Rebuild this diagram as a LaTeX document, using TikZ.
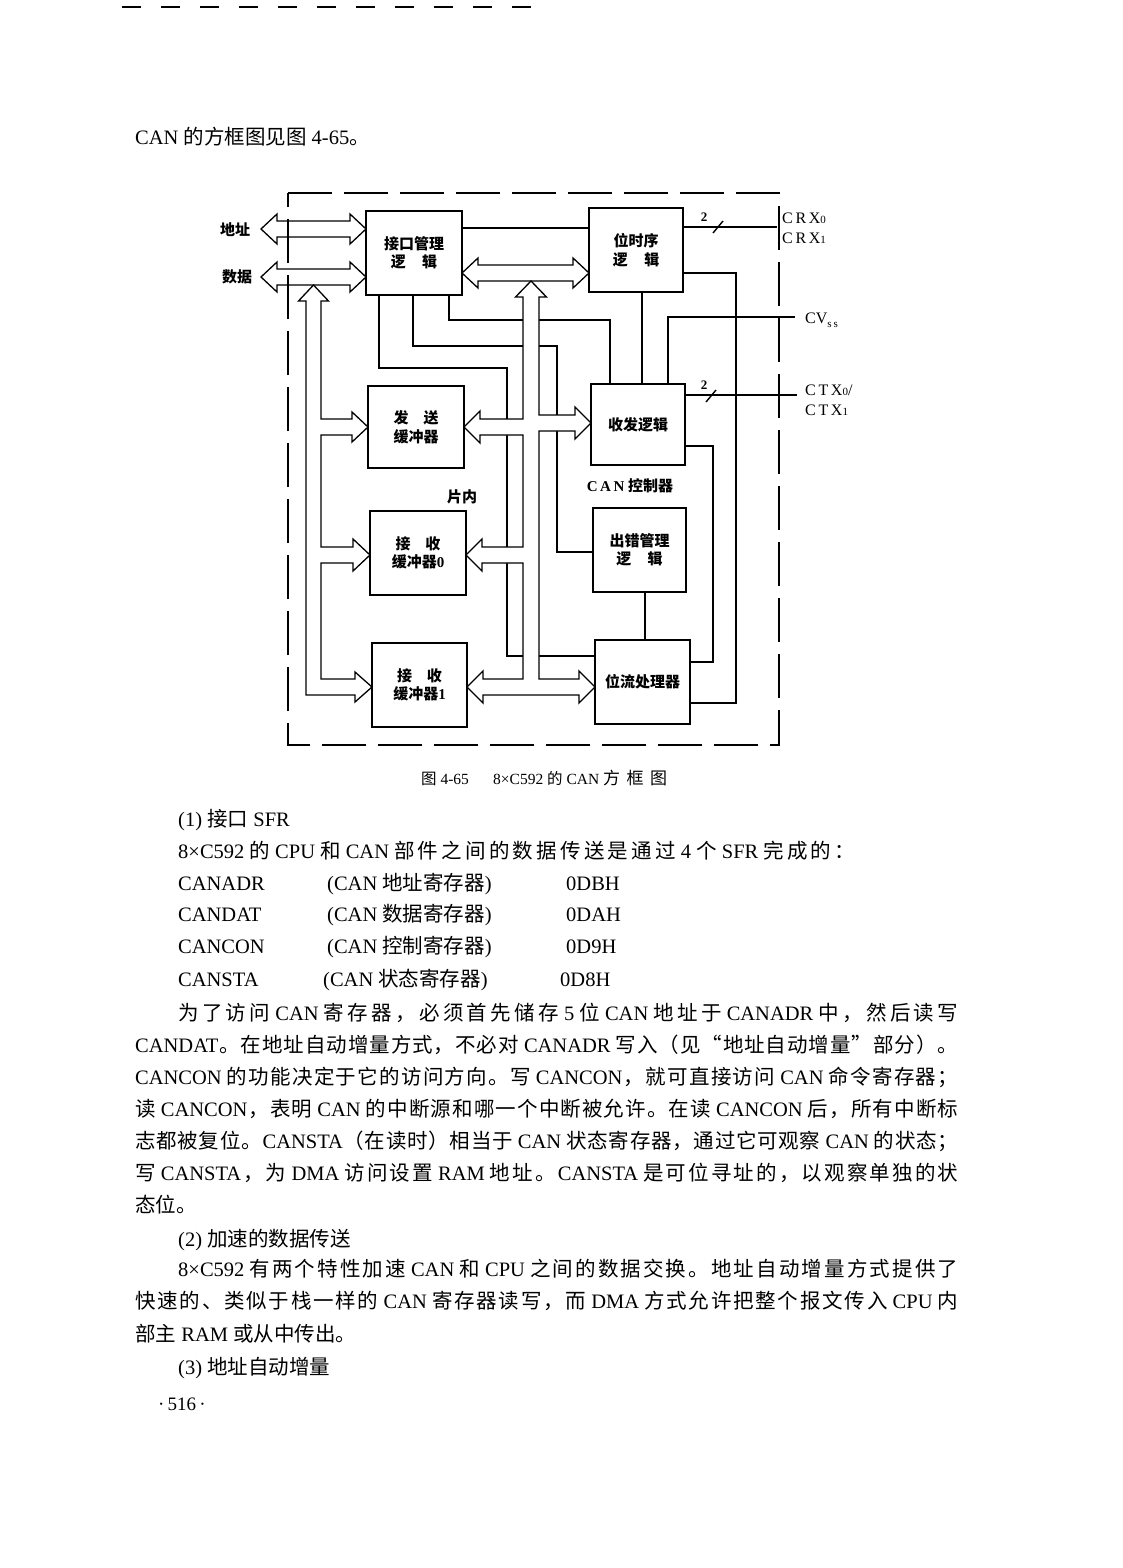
\documentclass[tikz,border=0pt]{standalone}
\usepackage{fontspec}
\setmainfont{Liberation Serif}
\newfontfamily\cjkfont{Noto Sans CJK SC}
\newXeTeXintercharclass\mycjk
\newcount\mycnt
\def\setcjkrange#1#2{\mycnt=#1\relax
  \loop\XeTeXcharclass\mycnt=\mycjk\relax
  \advance\mycnt by 1\relax
  \ifnum\mycnt<#2\relax\repeat}
\setcjkrange{"4E00}{"A000}
\setcjkrange{"3000}{"3040}
\setcjkrange{"FF00}{"FFF0}
\XeTeXcharclass"201C=\mycjk\relax
\XeTeXcharclass"201D=\mycjk\relax
\newcommand\cjkglue{\hskip0pt plus 1fil minus 1pt\relax}
\XeTeXinterchartoks 0 \mycjk = {\cjkglue\cjkfont}
\XeTeXinterchartoks \mycjk 0 = {\cjkglue\rmfamily}
\XeTeXinterchartoks \mycjk \mycjk = {\cjkglue}
\XeTeXinterchartoks 4095 \mycjk = {\cjkfont}
\XeTeXinterchartoks \mycjk 4095 = {\rmfamily}
\XeTeXinterchartokenstate=1
\newcommand\bodyf{\fontsize{20.5}{24}\selectfont}
\newcommand\dfont{\fontsize{15}{18.5}\selectfont\bfseries}
\newcommand\capf{\fontsize{15.5}{18}\selectfont}
\newcommand\pinf{\fontsize{16}{16}\selectfont}
\newcommand\smd[1]{{\fontsize{11}{11}\selectfont #1}}
\begin{document}
\begin{tikzpicture}[x=1pt,y=-1pt,
  blk/.style={draw, line width=2pt, fill=white, inner sep=0pt, align=center, font=\dfont},
  hol/.style={draw, line width=1.3pt, line join=miter},
  ln/.style={line width=1.4pt},
  bord/.style={line width=1.8pt, dash pattern=on 44pt off 12pt},
  tx/.style={anchor=base west, inner sep=0pt, font=\bodyf},
  dl/.style={inner sep=0pt, font=\dfont},
  pinl/.style={anchor=base west, inner sep=0pt, font=\pinf},
  two/.style={inner sep=0pt, font=\fontsize{13}{13}\selectfont\bfseries}]
\fill[white] (0,0) rectangle (1122,1568);
\useasboundingbox (0,0) rectangle (1122,1568);
% top page dashes
\draw[line width=1.5pt, dash pattern=on 19pt off 20pt] (122,7) -- (531,7);
% ---------- diagram ----------
\draw[bord] (288,193) -- (779,193) -- (779,745) -- (288,745) -- cycle;
% boxes
\node[blk, minimum width=96pt, minimum height=84pt] (jk) at (414,253) {接口管理\\逻\hspace{1.1em}辑};
\node[blk, minimum width=94pt, minimum height=84pt] (ws) at (636,250) {位时序\\逻\hspace{1.1em}辑};
\node[blk, minimum width=94pt, minimum height=81pt] (sf) at (638,424.5) {收发逻辑};
\node[blk, minimum width=96pt, minimum height=82pt] (fs) at (416,427) {发\hspace{1em}送\\缓冲器};
\node[blk, minimum width=96pt, minimum height=84pt] (js0) at (418,553) {接\hspace{1em}收\\缓冲器0};
\node[blk, minimum width=93pt, minimum height=84pt] (cc) at (639.5,550) {出错管理\\逻\hspace{1.1em}辑};
\node[blk, minimum width=95pt, minimum height=84pt] (js1) at (419.5,685) {接\hspace{1em}收\\缓冲器1};
\node[blk, minimum width=95pt, minimum height=84pt] (wl) at (642.5,682) {位流处理器};
% external pins
\coordinate (crx) at (777,227);
\coordinate (cvss) at (795,317);
\coordinate (ctx) at (797,395);
% single lines
\draw[ln] ([xshift=35pt]jk.south) -- ++(0,24) -| ([xshift=-28pt]sf.north);
\draw[ln] ([xshift=-1pt]jk.south) -- ++(0,50) -- ++(144,0) |- ([yshift=-2pt]cc.west);
\draw[ln] ([xshift=-35pt]jk.south) -- ++(0,72) -- ++(128,0) |- ([yshift=26pt]wl.west);
\draw[ln] ([yshift=25pt]jk.east) -- ([yshift=25pt]jk.east -| ws.west);
\draw[ln] (ws.east |- crx) -- (crx);
\draw[ln] (713,233) -- (723,221);
\node[two] (n2a) at (704,217) {2};
\draw[ln] ([yshift=-23pt]ws.east) -- ++(52,0) |- ([yshift=-21pt]wl.east);
\draw[ln] ([xshift=6pt]ws.south) -- ([xshift=6pt]ws.south |- sf.north);
\draw[ln] (cvss) -| ([xshift=30pt]sf.north);
\draw[ln] (sf.east |- ctx) -- (ctx);
\draw[ln] (706,402) -- (716,390);
\node[two] (n2b) at (704,385) {2};
\draw[ln] ([yshift=-21.5pt]sf.east) -- ++(27,0) |- ([yshift=20pt]wl.east);
\draw[ln] ([xshift=5.5pt]cc.south) -- ([xshift=5.5pt]cc.south |- wl.north);
% hollow arrows
\draw[hol] (261,229) -- (277,214) -- (277,221) -- (350,221) -- (350,214) -- (366,229) -- (350,244) -- (350,237) -- (277,237) -- (277,244) -- cycle;
\draw[hol] (261,277) -- (277,262) -- (277,269) -- (350,269) -- (350,262) -- (366,277) -- (350,292) -- (350,285) -- (277,285) -- (277,292) -- cycle;
\draw[hol, fill=white] (462,273) -- (478,258) -- (478,265) -- (573,265) -- (573,258) -- (589,273) -- (573,288) -- (573,281) -- (478,281) -- (478,288) -- cycle;
\draw[hol, fill=white] (313.5,285) -- (328.5,301) -- (321,301) -- (321,419) -- (352,419) -- (352,412) -- (368,427) -- (352,442) -- (352,435) -- (321,435) -- (321,547) -- (353,547) -- (353,539) -- (370,555) -- (353,571) -- (353,563) -- (321,563) -- (321,679) -- (355,679) -- (355,672) -- (372,687) -- (355,702) -- (355,695) -- (306,695) -- (306,301) -- (298.5,301) -- cycle;
\draw[hol, fill=white] (531,281) -- (546.5,297) -- (539,297) -- (539,415) -- (575,415) -- (575,407) -- (591,423) -- (575,439) -- (575,431) -- (539,431) -- (539,679) -- (579,679) -- (579,671) -- (595,687) -- (579,703) -- (579,695) -- (483,695) -- (483,703) -- (467,687) -- (483,671) -- (483,679) -- (523,679) -- (523,563) -- (482,563) -- (482,571) -- (466,555) -- (482,539) -- (482,547) -- (523,547) -- (523,435) -- (480,435) -- (480,443) -- (464,427) -- (480,411) -- (480,419) -- (523,419) -- (523,297) -- (515.5,297) -- cycle;
% diagram labels
\node[dl] (ldz) at (235,230) {地址};
\node[dl] (lsj) at (237,277) {数据};
\node[dl] (lpn) at (462,497) {片内};
\node[dl] (lcan) at (630,486) {C\,A\,N 控制器};
\node[pinl] (pcrx0) at (782,223) {C\,R\,X\smd{0}};
\node[pinl] (pcrx1) at (782,243) {C\,R\,X\smd{1}};
\node[pinl] (pcv) at (805,323) {CV\raisebox{-4pt}{\smd{s\,s}}};
\node[pinl] (pctx0) at (805,395) {C\,T\,X\smd{0}/};
\node[pinl] (pctx1) at (805,415) {C\,T\,X\smd{1}};
% caption
\node[anchor=base west, inner sep=0pt, font=\capf] (cap1) at (421,784) {图 4-65};
\node[anchor=base west, inner sep=0pt, font=\capf] (cap2) at (493,784) {8×C592 的 CAN};
\node[anchor=base west, inner sep=0pt, font=\fontsize{17}{17}\selectfont] (cap3) at (603,784.5) {\hbox to 64pt{方框图}};
% ---------- body text ----------
\node[tx] (t0) at (135,145) {CAN 的方框图见图 4-65。};
\node[tx] (h1) at (178,826) {(1) 接口 SFR};
\node[tx] (l1) at (178,858) {\hbox to 677pt{8×C592 的 CPU 和 CAN 部件之间的数据传送是通过 4 个 SFR 完成的：}};
\node[tx] (r1a) at (178,890) {CANADR};
\node[tx] (r1b) at (327,890) {(CAN 地址寄存器)};
\node[tx] (r1c) at (566,890) {0DBH};
\node[tx] (r2a) at (178,921) {CANDAT};
\node[tx] (r2b) at (327,921) {(CAN 数据寄存器)};
\node[tx] (r2c) at (566,921) {0DAH};
\node[tx] (r3a) at (178,953) {CANCON};
\node[tx] (r3b) at (327,953) {(CAN 控制寄存器)};
\node[tx] (r3c) at (566,953) {0D9H};
\node[tx] (r4a) at (178,986) {CANSTA};
\node[tx] (r4b) at (323,986) {(CAN 状态寄存器)};
\node[tx] (r4c) at (560,986) {0D8H};
\node[tx] (p1) at (178,1020) {\hbox to 780pt{为了访问 CAN 寄存器，必须首先储存 5 位 CAN 地址于 CANADR 中，然后读写}};
\node[tx] (p2) at (135,1052) {\hbox to 823pt{CANDAT。在地址自动增量方式，不必对 CANADR 写入（见“地址自动增量”部分）。}};
\node[tx] (p3) at (135,1084) {\hbox to 823pt{CANCON 的功能决定于它的访问方向。写 CANCON，就可直接访问 CAN 命令寄存器；}};
\node[tx] (p4) at (135,1116) {\hbox to 823pt{读 CANCON，表明 CAN 的中断源和哪一个中断被允许。在读 CANCON 后，所有中断标}};
\node[tx] (p5) at (135,1148) {\hbox to 823pt{志都被复位。CANSTA（在读时）相当于 CAN 状态寄存器，通过它可观察 CAN 的状态；}};
\node[tx] (p6) at (135,1180) {\hbox to 823pt{写 CANSTA，为 DMA 访问设置 RAM 地址。CANSTA 是可位寻址的，以观察单独的状}};
\node[tx] (p7) at (135,1212) {态位。};
\node[tx] (h2) at (178,1246) {(2) 加速的数据传送};
\node[tx] (q1) at (178,1276) {\hbox to 780pt{8×C592 有两个特性加速 CAN 和 CPU 之间的数据交换。地址自动增量方式提供了}};
\node[tx] (q2) at (135,1308) {\hbox to 823pt{快速的、类似于栈一样的 CAN 寄存器读写，而 DMA 方式允许把整个报文传入 CPU 内}};
\node[tx] (q3) at (135,1341) {部主 RAM 或从中传出。};
\node[tx] (h3) at (178,1374) {(3) 地址自动增量};
\node[anchor=base west, inner sep=0pt, font=\fontsize{19}{19}\selectfont] (pg) at (158,1410) {·\,516\,·};
\end{tikzpicture}
\end{document}
